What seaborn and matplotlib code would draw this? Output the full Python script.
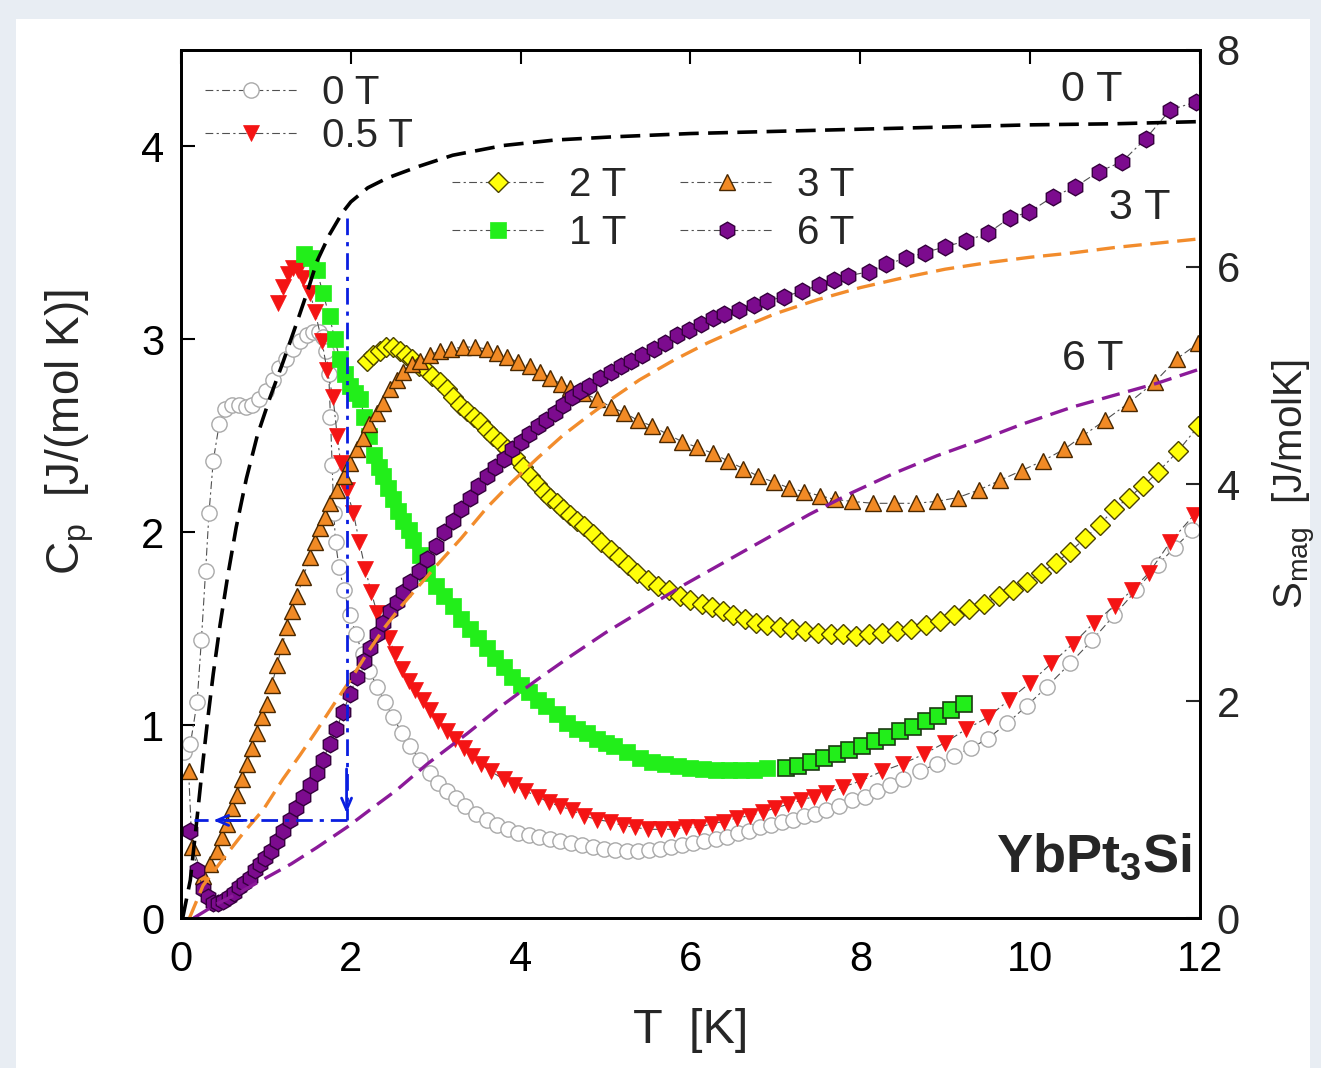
import numpy as np
import pandas as pd
import matplotlib
matplotlib.use('Agg')
import matplotlib.pyplot as plt
import seaborn as sns
from matplotlib.patches import Rectangle

sns.set_theme(style='white')
plt.rcParams['font.family'] = ['Liberation Sans', 'DejaVu Sans']
plt.rcParams['mathtext.fontset'] = 'custom'
plt.rcParams['mathtext.rm'] = 'Liberation Sans'
plt.rcParams['mathtext.bf'] = 'Liberation Sans:bold'

# ---- specific heat data, Cp [J/(mol K)] vs T [K] ----
t_0T = [0.03, 0.11, 0.19, 0.24, 0.29, 0.33, 0.38, 0.45, 0.52, 0.6, 0.68, 0.76, 0.84, 0.92, 1.0,
        1.08, 1.16, 1.24, 1.32, 1.4, 1.48, 1.56, 1.62, 1.67, 1.71, 1.74, 1.76, 1.78, 1.8, 1.82,
        1.86, 1.92, 1.99, 2.06, 2.14, 2.22, 2.31, 2.4, 2.5, 2.6, 2.7, 2.81, 2.93, 3.03, 3.13,
        3.24, 3.35, 3.47, 3.6, 3.72, 3.85, 3.97, 4.1, 4.22, 4.34, 4.46, 4.59, 4.72, 4.85, 4.98,
        5.11, 5.25, 5.38, 5.51, 5.64, 5.77, 5.9, 6.03, 6.16, 6.3, 6.43, 6.56, 6.69, 6.82, 6.95,
        7.08, 7.21, 7.34, 7.47, 7.6, 7.75, 7.9, 8.05, 8.2, 8.35, 8.5, 8.7, 8.9, 9.1, 9.3, 9.5,
        9.73, 9.96, 10.2, 10.47, 10.73, 10.99, 11.25, 11.5, 11.7, 11.91]
cp_0T = [0.86, 0.9, 1.12, 1.44, 1.8, 2.1, 2.37, 2.56, 2.64, 2.66, 2.66, 2.65, 2.66, 2.69, 2.73,
         2.79, 2.85, 2.9, 2.95, 2.99, 3.02, 3.04, 3.04, 3.01, 2.94, 2.82, 2.6, 2.35, 2.1, 1.95,
         1.82, 1.7, 1.57, 1.47, 1.37, 1.28, 1.2, 1.12, 1.04, 0.96, 0.89, 0.82, 0.75, 0.7, 0.66,
         0.62, 0.58, 0.54, 0.51, 0.48, 0.46, 0.44, 0.43, 0.42, 0.41, 0.4, 0.39, 0.38, 0.37, 0.36,
         0.355, 0.35, 0.35, 0.355, 0.36, 0.37, 0.38, 0.39, 0.4, 0.41, 0.42, 0.44, 0.45, 0.47, 0.48,
         0.5, 0.51, 0.53, 0.54, 0.56, 0.58, 0.61, 0.63, 0.66, 0.69, 0.72, 0.76, 0.8, 0.84, 0.88, 0.93,
         1.01, 1.1, 1.2, 1.32, 1.44, 1.57, 1.7, 1.83, 1.92, 2.01]

t_05T = [1.14, 1.2, 1.26, 1.32, 1.38, 1.44, 1.52, 1.58, 1.66, 1.72, 1.79, 1.84, 1.88, 1.95, 2.03,
         2.1, 2.17, 2.24, 2.31, 2.38, 2.45, 2.52, 2.6, 2.68, 2.76, 2.85, 2.93, 3.03, 3.13, 3.23,
         3.33, 3.43, 3.53, 3.65, 3.8, 3.92, 4.05, 4.2, 4.33, 4.46, 4.6, 4.75, 4.9, 5.05, 5.2,
         5.35, 5.5, 5.65, 5.8, 5.95, 6.1, 6.25, 6.4, 6.55, 6.7, 6.85, 7.0, 7.15, 7.3, 7.45,
         7.6, 7.8, 8.0, 8.25, 8.5, 8.75, 9.0, 9.25, 9.5, 9.75, 10.0, 10.25, 10.5, 10.75, 11.0,
         11.2, 11.4, 11.65, 11.93]
cp_05T = [3.19, 3.27, 3.34, 3.37, 3.36, 3.32, 3.24, 3.14, 2.99, 2.84, 2.7, 2.5, 2.36, 2.22, 2.1,
          1.95, 1.81, 1.69, 1.58, 1.52, 1.45, 1.37, 1.29, 1.23, 1.18, 1.13, 1.08, 1.02, 0.97, 0.93,
          0.88, 0.84, 0.8, 0.76, 0.72, 0.69, 0.66, 0.63, 0.6, 0.58, 0.56, 0.53, 0.51, 0.5, 0.48,
          0.47, 0.46, 0.46, 0.46, 0.47, 0.47, 0.49, 0.5, 0.52, 0.53, 0.55, 0.57, 0.59, 0.61, 0.63,
          0.65, 0.68, 0.71, 0.76, 0.8, 0.85, 0.91, 0.98, 1.04, 1.13, 1.22, 1.32, 1.42, 1.53, 1.62,
          1.7, 1.79, 1.95, 2.09]

t_1T = [1.45, 1.53, 1.6, 1.67, 1.75, 1.81, 1.87, 1.93, 1.99, 2.05, 2.11, 2.16, 2.21, 2.27, 2.33,
        2.38, 2.44, 2.5, 2.56, 2.62, 2.68, 2.73, 2.81, 2.9, 3.0, 3.1, 3.2, 3.3, 3.4, 3.5,
        3.6, 3.7, 3.8, 3.9, 4.0, 4.1, 4.2, 4.3, 4.43, 4.55, 4.66, 4.78, 4.9, 5.0, 5.1,
        5.25, 5.4, 5.55, 5.7, 5.85, 6.0, 6.15, 6.3, 6.45, 6.6, 6.75, 6.9]
cp_1T = [3.44, 3.42, 3.36, 3.24, 3.12, 3.0, 2.9, 2.82, 2.76, 2.72, 2.69, 2.6, 2.5, 2.4, 2.34,
         2.29, 2.23, 2.17, 2.11, 2.06, 2.01, 1.96, 1.88, 1.79, 1.72, 1.67, 1.62, 1.55, 1.5, 1.45,
         1.4, 1.35, 1.3, 1.25, 1.21, 1.17, 1.13, 1.1, 1.06, 1.01, 0.98, 0.96, 0.93, 0.91, 0.89,
         0.86, 0.83, 0.81, 0.8, 0.79, 0.78, 0.775, 0.77, 0.77, 0.77, 0.77, 0.78]
# 1 T, second run (outlined squares)
t_1Tb = [7.12, 7.27, 7.42, 7.57, 7.72, 7.87, 8.02, 8.17, 8.32, 8.47, 8.62, 8.77, 8.92, 9.07, 9.22]
cp_1Tb = [0.78, 0.79, 0.81, 0.83, 0.85, 0.87, 0.89, 0.92, 0.94, 0.97, 0.99, 1.02, 1.05, 1.08, 1.11]

t_2T = [2.19, 2.26, 2.34, 2.42, 2.5, 2.58, 2.65, 2.72, 2.8, 2.88, 2.96, 3.05, 3.13, 3.2, 3.29,
        3.37, 3.45, 3.52, 3.6, 3.68, 3.76, 3.84, 3.93, 4.03, 4.11, 4.19, 4.27, 4.35, 4.43, 4.5,
        4.58, 4.66, 4.75, 4.85, 4.95, 5.06, 5.16, 5.27, 5.37, 5.5, 5.62, 5.75, 5.88, 6.0, 6.13,
        6.25, 6.38, 6.5, 6.64, 6.77, 6.9, 7.05, 7.2, 7.35, 7.5, 7.65, 7.8, 7.95, 8.1, 8.25,
        8.43, 8.6, 8.77, 8.94, 9.1, 9.28, 9.46, 9.63, 9.8, 9.96, 10.13, 10.3, 10.47, 10.65, 10.82,
        10.99, 11.16, 11.33, 11.5, 11.74, 11.98]
cp_2T = [2.89, 2.92, 2.94, 2.96, 2.96, 2.94, 2.92, 2.9, 2.86, 2.84, 2.81, 2.78, 2.74, 2.7, 2.66,
         2.63, 2.6, 2.57, 2.53, 2.5, 2.47, 2.43, 2.39, 2.34, 2.29, 2.25, 2.21, 2.18, 2.15, 2.12,
         2.09, 2.06, 2.03, 1.99, 1.95, 1.91, 1.87, 1.83, 1.79, 1.75, 1.72, 1.7, 1.67, 1.65, 1.63,
         1.61, 1.59, 1.57, 1.55, 1.53, 1.52, 1.51, 1.5, 1.49, 1.48, 1.47, 1.47, 1.46, 1.47, 1.48,
         1.49, 1.5, 1.52, 1.54, 1.57, 1.6, 1.63, 1.67, 1.7, 1.74, 1.79, 1.84, 1.9, 1.97, 2.04,
         2.12, 2.18, 2.24, 2.31, 2.42, 2.55]

t_3T = [0.09, 0.13, 0.26, 0.34, 0.42, 0.48, 0.54, 0.6, 0.66, 0.72, 0.78, 0.84, 0.9, 0.96, 1.01,
        1.07, 1.13, 1.19, 1.25, 1.31, 1.37, 1.44, 1.52, 1.58, 1.64, 1.7, 1.76, 1.84, 1.92, 1.99,
        2.07, 2.14, 2.22, 2.31, 2.38, 2.46, 2.54, 2.62, 2.72, 2.81, 2.93, 3.05, 3.18, 3.32, 3.46,
        3.6, 3.72, 3.84, 3.97, 4.11, 4.23, 4.35, 4.47, 4.58, 4.74, 4.9, 5.06, 5.22, 5.38, 5.55,
        5.72, 5.9, 6.08, 6.26, 6.44, 6.62, 6.8, 6.98, 7.16, 7.34, 7.52, 7.7, 7.9, 8.15, 8.4,
        8.65, 8.9, 9.15, 9.4, 9.65, 9.9, 10.15, 10.4, 10.62, 10.88, 11.16, 11.47, 11.73, 11.98]
cp_3T = [0.76, 0.37, 0.22, 0.28, 0.35, 0.42, 0.49, 0.57, 0.64, 0.72, 0.8, 0.88, 0.96, 1.04, 1.11,
         1.21, 1.31, 1.41, 1.51, 1.59, 1.67, 1.77, 1.87, 1.95, 2.02, 2.08, 2.15, 2.22, 2.29, 2.36,
         2.43, 2.49, 2.56, 2.62, 2.67, 2.74, 2.79, 2.83, 2.87, 2.89, 2.92, 2.94, 2.95, 2.96, 2.96,
         2.95, 2.93, 2.91, 2.88, 2.86, 2.83, 2.8, 2.77, 2.75, 2.72, 2.69, 2.65, 2.62, 2.58, 2.55,
         2.51, 2.47, 2.44, 2.41, 2.37, 2.33, 2.29, 2.26, 2.23, 2.21, 2.19, 2.17, 2.16, 2.15, 2.15,
         2.15, 2.16, 2.18, 2.22, 2.27, 2.32, 2.37, 2.43, 2.5, 2.58, 2.67, 2.78, 2.9, 2.98]

t_6T = [0.11, 0.19, 0.26, 0.32, 0.38, 0.44, 0.5, 0.56, 0.62, 0.68, 0.74, 0.81, 0.87, 0.93, 0.99,
        1.06, 1.13, 1.2, 1.28, 1.36, 1.44, 1.52, 1.6, 1.67, 1.75, 1.83, 1.91, 1.99, 2.07, 2.15,
        2.23, 2.31, 2.38, 2.46, 2.54, 2.62, 2.7, 2.8, 2.9, 3.0, 3.1, 3.2, 3.3, 3.4, 3.5,
        3.6, 3.7, 3.8, 3.9, 4.0, 4.1, 4.2, 4.3, 4.4, 4.5, 4.6, 4.7, 4.8, 4.93, 5.06,
        5.18, 5.3, 5.43, 5.57, 5.7, 5.84, 5.98, 6.12, 6.26, 6.4, 6.57, 6.75, 6.9, 7.1, 7.31,
        7.51, 7.69, 7.86, 8.1, 8.3, 8.54, 8.76, 9.0, 9.24, 9.5, 9.76, 9.99, 10.27, 10.53, 10.81,
        11.08, 11.36, 11.65, 11.95]
cp_6T = [0.45, 0.25, 0.15, 0.11, 0.08, 0.08, 0.09, 0.11, 0.13, 0.16, 0.18, 0.21, 0.25, 0.28, 0.31,
         0.35, 0.4, 0.45, 0.51, 0.57, 0.63, 0.69, 0.75, 0.82, 0.9, 0.98, 1.07, 1.16, 1.25, 1.33,
         1.4, 1.47, 1.53, 1.59, 1.64, 1.69, 1.74, 1.8, 1.86, 1.93, 2.0, 2.06, 2.12, 2.18, 2.24,
         2.29, 2.34, 2.38, 2.43, 2.47, 2.51, 2.55, 2.58, 2.62, 2.66, 2.7, 2.73, 2.76, 2.8, 2.83,
         2.86, 2.89, 2.92, 2.95, 2.98, 3.02, 3.05, 3.08, 3.11, 3.13, 3.15, 3.18, 3.2, 3.22, 3.25,
         3.28, 3.31, 3.33, 3.35, 3.39, 3.42, 3.45, 3.48, 3.51, 3.55, 3.63, 3.66, 3.74, 3.79, 3.87,
         3.92, 4.04, 4.19, 4.23]

# ---- magnetic entropy, S_mag [J/molK] (right axis) ----
t_S0 = [0.02, 0.11, 0.2, 0.26, 0.31, 0.38, 0.46, 0.55, 0.65, 0.77, 0.9, 1.05, 1.2, 1.37, 1.5,
        1.6, 1.75, 1.9, 2.0, 2.2, 2.43, 2.81, 3.2, 3.8, 4.4, 5.1, 6.0, 7.0, 8.0, 9.0, 10.0, 11.0, 12.0]
s_0T = [0.0, 0.35, 1.0, 1.45, 1.8, 2.25, 2.7, 3.15, 3.6, 4.05, 4.45, 4.8, 5.12, 5.5, 5.8,
        6.05, 6.3, 6.5, 6.6, 6.73, 6.82, 6.93, 7.03, 7.12, 7.17, 7.2, 7.23, 7.25, 7.27, 7.29, 7.31, 7.32, 7.34]
t_S3 = [0.1, 0.26, 0.5, 0.73, 0.97, 1.2, 1.4, 1.6, 1.8, 2.0, 2.2, 2.4, 2.6, 2.8, 3.0, 3.3, 3.6,
        3.9, 4.2, 4.5, 4.8, 5.1, 5.4, 5.8, 6.2, 6.6, 7.0, 7.5, 8.0, 8.5, 9.0, 9.5, 10.0, 10.5,
        11.0, 11.5, 12.0]
s_3T = [0.0, 0.3, 0.55, 0.78, 1.0, 1.28, 1.5, 1.73, 1.97, 2.2, 2.45, 2.68, 2.88, 3.06, 3.24, 3.5, 3.78,
        4.02, 4.24, 4.45, 4.63, 4.8, 4.96, 5.14, 5.3, 5.44, 5.57, 5.7, 5.81, 5.9, 5.98, 6.04, 6.09, 6.13,
        6.18, 6.22, 6.26]
t_S6 = [0.15, 0.4, 0.7, 1.0, 1.3, 1.6, 1.96, 2.23, 2.54, 2.9, 3.37, 3.8, 4.2, 4.6, 5.0, 5.4, 5.9,
        6.4, 6.9, 7.4, 7.9, 8.4, 8.9, 9.4, 9.9, 10.5, 11.0, 11.5, 12.0]
s_6T = [0.0, 0.12, 0.24, 0.37, 0.5, 0.65, 0.84, 1.0, 1.18, 1.42, 1.7, 1.97, 2.2, 2.42, 2.63, 2.82, 3.06,
        3.28, 3.5, 3.72, 3.92, 4.1, 4.26, 4.4, 4.55, 4.71, 4.82, 4.93, 5.06]

# entropy released at Tc (blue arrows)
t_c = 1.95
s_at_tc = 6.45
s_below = 0.9
t_arrow_end = 0.15

fig = plt.figure(figsize=(13.21, 10.68), dpi=100, facecolor='#e8edf3')
fig.patches.append(Rectangle((0.012, 0.0), 0.98, 0.982, transform=fig.transFigure,
                             facecolor='white', edgecolor='none', zorder=-10))
ax = fig.add_axes([0.137, 0.1404, 0.7714, 0.8128])
ax.set_facecolor('white')

conn = dict(color='#505050', lw=0.8, linestyle=(0, (7, 3, 2, 3)), sort=False, estimator=None)

series = [
    ('0 T', t_0T, cp_0T, dict(marker='o', markersize=11, markerfacecolor='white',
                              markeredgecolor='#a9a9a9', markeredgewidth=1.0)),
    ('0.5 T', t_05T, cp_05T, dict(marker='v', markersize=12, markerfacecolor='#f41414',
                                  markeredgecolor='#f41414', markeredgewidth=0.5)),
    ('1 T', t_1T, cp_1T, dict(marker='s', markersize=11, markerfacecolor='#22ee1a',
                              markeredgecolor='#22ee1a', markeredgewidth=0.5)),
    ('1 Tb', t_1Tb, cp_1Tb, dict(marker='s', markersize=11, markerfacecolor='#22ee1a',
                                 markeredgecolor='#1b3b12', markeredgewidth=1.2)),
    ('2 T', t_2T, cp_2T, dict(marker='D', markersize=10, markerfacecolor='#ffff0a',
                              markeredgecolor='#4b4200', markeredgewidth=1.0)),
    ('3 T', t_3T, cp_3T, dict(marker='^', markersize=12, markerfacecolor='#f18a25',
                              markeredgecolor='#4a2800', markeredgewidth=1.0)),
    ('6 T', t_6T, cp_6T, dict(marker='h', markersize=12, markerfacecolor='#7c0b8e',
                              markeredgecolor='#35003d', markeredgewidth=1.0)),
]
handles = {}
for name, t, cp, mk in series:
    df = pd.DataFrame({'T': t, 'Cp': cp})
    sns.lineplot(data=df, x='T', y='Cp', ax=ax, label=name, **conn, **mk)
    handles[name] = ax.get_lines()[-1]
if ax.get_legend() is not None:
    ax.get_legend().remove()

ax.set_xlim(0, 12)
ax.set_ylim(0, 4.5)
ax.set_xticks([0, 2, 4, 6, 8, 10, 12])
ax.set_yticks([0, 1, 2, 3, 4])
ax.tick_params(axis='x', direction='in', length=10, width=1.5, labelsize=30,
               top=True, colors='black', pad=16)
ax.tick_params(axis='y', direction='in', length=10, width=1.5, labelsize=30,
               right=False, colors='black', pad=12)
for sp in ax.spines.values():
    sp.set_color('black')
    sp.set_linewidth(2)
ax.set_xlabel('T  [K]', fontsize=35, labelpad=20)
ax.set_ylabel(r'C$_\mathrm{p}$  [J/(mol K)]', fontsize=33)
ax.yaxis.set_label_coords(-0.083, 0.56)

# right axis: entropy
ax2 = ax.twinx()
ax2.set_position(ax.get_position())
dash = (0, (5.5, 2.6))
sns.lineplot(x=t_S0, y=s_0T, ax=ax2, color='black', lw=2.6, linestyle=dash, sort=False, estimator=None)
sns.lineplot(x=t_S3, y=s_3T, ax=ax2, color='#f28c2c', lw=2.4, linestyle=dash, sort=False, estimator=None)
sns.lineplot(x=t_S6, y=s_6T, ax=ax2, color='#8b1a99', lw=2.4, linestyle=dash, sort=False, estimator=None)

blue = '#0a1ee0'
ax2.plot([t_c, t_c], [s_at_tc, s_below], color=blue, lw=2, linestyle=(0, (6, 2.5, 1.5, 2.5)))
ax2.plot([t_c, t_arrow_end], [s_below, s_below], color=blue, lw=2, linestyle=(0, (6, 2.5, 1.5, 2.5)))
ax2.annotate('', xy=(t_c, s_below + 0.04), xytext=(t_c, s_below + 0.5),
             arrowprops=dict(arrowstyle='->,head_length=0.7,head_width=0.3', color=blue, lw=2))
ax2.annotate('', xy=(t_arrow_end + 0.2, s_below), xytext=(t_arrow_end + 0.65, s_below),
             arrowprops=dict(arrowstyle='->,head_length=0.7,head_width=0.3', color=blue, lw=2))

ax2.set_ylim(0, 8)
ax2.set_yticks([0, 2, 4, 6, 8])
ax2.set_xlim(0, 12)
ax2.tick_params(axis='y', direction='in', length=10, width=1.5, labelsize=30, pad=12)
ax2.set_ylabel(r'S$_\mathrm{mag}$  [J/molK]', fontsize=29)
ax2.yaxis.set_label_coords(1.07, 0.5)
for sp in ax2.spines.values():
    sp.set_color('black')
    sp.set_linewidth(2)

# curve labels for the entropy lines
ax.text(10.72, 4.29, '0 T', fontsize=31, ha='center', va='center')
ax.text(11.29, 3.68, '3 T', fontsize=31, ha='center', va='center')
ax.text(10.74, 2.9, '6 T', fontsize=31, ha='center', va='center')
ax.text(11.9, 0.31, r'YbPt$_\mathbf{3}$Si', fontsize=39, fontweight='bold', ha='right', va='center')

# legends
leg1 = ax2.legend(handles=[handles['0 T'], handles['0.5 T']], labels=['0 T', '0.5 T'],
                  loc='upper left', bbox_to_anchor=(0.0, 1.0), frameon=False, fontsize=29,
                  handlelength=2.3, handletextpad=0.6, labelspacing=0.12, numpoints=1,
                  borderaxespad=0.2)
ax2.add_artist(leg1)
leg2 = ax2.legend(handles=[handles['2 T'], handles['1 T'], handles['3 T'], handles['6 T']],
                  labels=['2 T', '1 T', '3 T', '6 T'], ncol=2,
                  loc='upper left', bbox_to_anchor=(0.25, 0.885), frameon=False, fontsize=29,
                  handlelength=2.3, handletextpad=0.6, labelspacing=0.25, columnspacing=1.35,
                  numpoints=1, borderaxespad=0.0)

fig.savefig('out.png', dpi=100, facecolor=fig.get_facecolor())
